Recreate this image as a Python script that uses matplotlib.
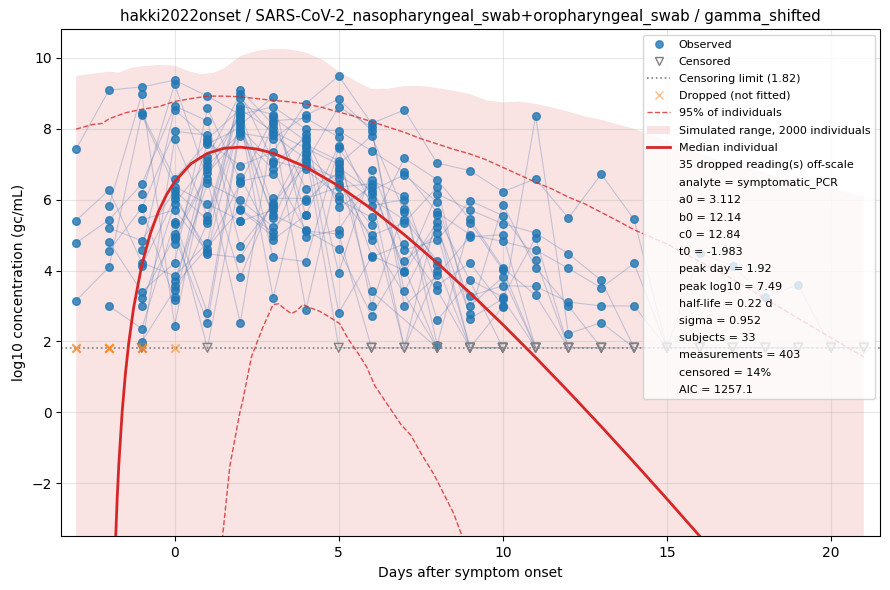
import matplotlib
matplotlib.use("Agg")
import matplotlib.pyplot as plt
from matplotlib.lines import Line2D
from matplotlib.patches import Patch
import numpy as np

# observed readings per day (order within a day = subject order)
days = list(range(-3, 22))
obs = {
    -3: [7.43, 3.15, 5.41, 4.78],
    -2: [9.09, 4.10, 6.27, 5.43, 3.00, 5.82, 4.55, 5.20, 4.81],
    -1: [9.18, 8.43, 4.22, 6.44, 2.36, 8.98, 5.77, 4.84, 3.40, 6.16, 5.43, 1.99,
         8.38, 3.23, 4.58, 5.75, 4.13, 3.00],
    0: [9.37, 6.59, 3.85, 8.64, 5.37, 2.44, 7.93, 6.25, 4.22, 9.26, 5.71, 3.46,
        6.37, 4.95, 8.54, 3.17, 6.03, 5.88, 7.71, 3.70, 4.75, 6.14, 5.03, 3.25,
        5.32, 4.88, 3.57],
    1: [8.92, 7.62, 4.78, 8.22, 2.81, 6.97, 7.82, 5.43, 8.58, 6.57, 4.52, 7.19,
        5.88, 2.53, 7.71, 6.86, 4.61, 7.08, 5.54, 6.46, 7.57, 4.47, 6.74, 5.35],
    2: [8.40, 6.96, 9.09, 4.68, 8.10, 7.88, 5.71, 8.65, 6.52, 2.52, 8.25, 8.98,
        5.41, 7.95, 8.55, 3.81, 6.46, 8.33, 8.88, 5.99, 8.03, 4.36, 7.80, 8.18,
        6.63, 8.48, 5.74, 5.39],
    3: [8.62, 7.34, 8.12, 5.85, 8.90, 7.72, 4.96, 8.40, 6.71, 8.02, 3.23, 7.10,
        8.22, 5.57, 7.92, 6.04, 8.32, 4.37, 7.82, 5.23, 7.02, 5.90, 6.85, 5.48,
        4.87, 5.78, 5.08, 5.71],
    4: [7.99, 8.71, 6.31, 7.55, 4.94, 8.38, 7.25, 5.57, 7.85, 2.89, 7.05, 6.85,
        8.30, 5.13, 7.45, 6.03, 7.65, 4.25, 7.15, 5.97, 7.75, 6.96, 5.11, 7.35, 5.56],
    5: [7.94, 9.49, 6.72, 7.10, 5.15, 8.84, 6.44, 7.52, 3.93, 6.90, 8.62, 6.11,
        7.76, 4.61, 7.00, 6.35, 2.81, 7.45, 6.00, 6.80, 5.78, 6.60, 5.03],
    6: [7.38, 8.15, 6.02, 4.42, 6.54, 7.95, 5.27, 3.01, 6.84, 6.25, 8.05, 4.99,
        5.83, 2.73, 7.80, 6.45, 4.38, 6.15, 5.50, 3.41, 6.35, 4.85],
    7: [6.77, 8.53, 5.43, 4.00, 6.09, 3.41, 7.17, 5.74, 4.58, 6.70, 3.01, 5.35,
        6.00, 4.28, 5.65, 3.95, 4.75],
    8: [5.64, 7.03, 4.28, 6.16, 3.58, 5.22, 6.56, 2.59, 4.85, 5.93, 3.86, 6.35,
        1.90, 5.05, 4.15, 5.37, 3.45, 5.58, 4.00],
    9: [5.01, 6.82, 3.28, 5.71, 4.21, 2.76, 5.44, 3.74, 5.97, 3.00, 4.95, 2.64, 5.35],
    10: [4.82, 6.22, 3.57, 5.32, 3.00, 5.86, 4.08, 3.25, 5.55, 3.81, 5.01, 3.20, 4.02, 2.98],
    11: [4.58, 6.59, 3.55, 5.06, 8.36, 4.08, 3.30, 4.92, 4.30],
    12: [4.06, 5.48, 3.11, 4.47, 2.22, 3.00],
    13: [3.51, 6.72, 3.00, 3.72, 2.53],
    14: [4.20, 5.44, 3.00],
    15: [],
    16: [4.48],
    17: [4.14],
    18: [3.25],
    19: [3.60],
    20: [],
    21: [],
}
# censored readings (count per day), plotted at the limit
cens_count = {-1: 1, 1: 1, 5: 1, 6: 2, 7: 2, 8: 4, 9: 4, 10: 4, 11: 4, 12: 4,
              13: 3, 14: 3, 15: 3, 16: 3, 17: 3, 18: 3, 19: 3, 20: 3, 21: 3}
limit = 1.82
dropped_days = [-3, -3, -2, -2, -2, -1, -1, -1, 0]

# simulated range (upper edge; lower edge is off-scale)
sim_days = [-3, -2.5, -2, -1.7, -1.3, -1, -0.5, 0, 0.5, 0.8, 1.2, 1.5, 2, 2.5, 3,
            3.5, 4, 4.5, 5, 5.5, 6, 6.5, 7, 7.5, 8, 8.5, 9, 9.5, 10, 10.5, 11,
            11.5, 12, 12.5, 13, 13.5, 14, 15, 16, 17, 18, 19, 20, 21]
sim_upper = [9.49, 9.55, 9.61, 9.58, 9.73, 9.76, 9.80, 9.78, 9.60, 9.54, 9.58,
             9.70, 10.05, 10.20, 10.25, 10.24, 10.15, 9.95, 9.62, 9.35, 9.12,
             9.13, 9.20, 9.21, 9.15, 9.07, 8.98, 8.80, 8.74, 8.77, 8.70, 8.60,
             8.48, 8.35, 8.25, 8.12, 8.00, 7.65, 7.30, 7.00, 6.75, 6.50, 6.30, 6.10]
sim_floor = -10.0

# 95% of individuals
hi_days = [-3, -2.5, -2.2, -2, -1.5, -1, -0.5, 0, 0.5, 1, 1.5, 2, 2.5, 3, 3.5,
           4, 4.5, 5, 5.5, 6, 6.5, 7, 7.5, 8, 8.5, 9, 9.5, 10, 10.5, 11, 11.5,
           12, 12.5, 13, 13.5, 14, 15, 16, 17, 18, 19, 20, 21]
hi_vals = [7.99, 8.12, 8.15, 8.28, 8.45, 8.55, 8.62, 8.77, 8.85, 8.92, 8.92,
           8.90, 8.85, 8.80, 8.76, 8.70, 8.60, 8.47, 8.35, 8.20, 8.05, 7.90,
           7.72, 7.57, 7.42, 7.29, 7.12, 6.91, 6.70, 6.49, 6.30, 6.07, 5.88,
           5.64, 5.40, 5.15, 4.75, 4.25, 3.76, 3.20, 2.65, 2.10, 1.56]
lo_days = [1.45, 1.68, 1.98, 2.08, 2.34, 2.69, 3.0, 3.17, 3.35, 3.56, 3.73, 3.91,
           4.12, 4.42, 4.73, 5.03, 5.3, 5.6, 5.85, 6.1, 6.5, 6.9, 7.2, 7.5, 7.9,
           8.2, 8.5, 8.8]
lo_vals = [-3.6, -1.53, -0.04, 0.35, 1.56, 2.40, 3.04, 3.06, 2.92, 2.78, 2.87,
           3.04, 2.95, 2.85, 2.68, 2.50, 2.05, 1.65, 1.28, 0.75, 0.20, -0.35,
           -0.65, -1.15, -1.75, -2.30, -2.85, -3.6]

# median individual
med_days = [-1.8, -1.75, -1.7, -1.6, -1.5, -1.4, -1.25, -1.0, -0.75, -0.5, -0.25,
            0, 0.5, 1, 1.5, 2, 2.5, 3, 4, 5, 6, 7, 8, 9, 10, 11, 12, 13, 14,
            15, 16, 16.5]
med_vals = [-3.625, -2.419, -1.461, -0.001, 1.087, 1.943, 2.948, 4.157, 5.014,
            5.650, 6.134, 6.506, 7.016, 7.307, 7.448, 7.480, 7.428, 7.310,
            6.922, 6.385, 5.739, 5.010, 4.215, 3.367, 2.475, 1.546, 0.585,
            -0.402, -1.413, -2.444, -3.494, -4.025]

info = ["35 dropped reading(s) off-scale", "analyte = symptomatic_PCR",
        "a0 = 3.112", "b0 = 12.14", "c0 = 12.84", "t0 = -1.983",
        "peak day = 1.92", "peak log10 = 7.49", "half-life = 0.22 d",
        "sigma = 0.952", "subjects = 33", "measurements = 403",
        "censored = 14%", "AIC = 1257.1"]

red = "#d62728"

fig = plt.figure(figsize=(8.9, 5.9), dpi=100)
ax = fig.add_axes([0.069, 0.091, 0.920, 0.859])

ax.fill_between(sim_days, sim_floor, sim_upper, color=red, alpha=0.13, lw=0, zorder=1)

# per-subject lines (index in each day's list)
full = {d: obs[d] + [limit] * cens_count.get(d, 0) for d in days}
nmax = max(len(v) for v in full.values())
for j in range(nmax):
    tx = [d for d in days if j < len(full[d])]
    ty = [full[d][j] for d in days if j < len(full[d])]
    if len(tx) > 1:
        ax.plot(tx, ty, color="#4c72b0", alpha=0.3, lw=0.8, zorder=2)

ox = [d for d in days for v in obs[d]]
oy = [v for d in days for v in obs[d]]
ax.scatter(ox, oy, s=30, color="#1f77b4", alpha=0.8, zorder=3)
cx = [d for d in days for k in range(cens_count.get(d, 0))]
ax.scatter(cx, [limit] * len(cx), marker="v", s=40, facecolors="none",
           edgecolors="gray", linewidths=1, zorder=3)
ax.axhline(limit, color="gray", ls=":", lw=1.2, zorder=2)
ax.scatter(dropped_days, [limit] * len(dropped_days), marker="x", s=36,
           color="#ff7f0e", alpha=0.5, zorder=4)

ax.plot(hi_days, hi_vals, color=red, ls="--", lw=1, alpha=0.8, zorder=4)
ax.plot(lo_days, lo_vals, color=red, ls="--", lw=1, alpha=0.8, zorder=4)
ax.plot(med_days, med_vals, color=red, lw=2, zorder=5)

ax.set_xlim(-3.45, 21.5)
ax.set_ylim(-3.5, 10.8)
ax.grid(alpha=0.3)
ax.set_xlabel("Days after symptom onset")
ax.set_ylabel("log10 concentration (gc/mL)")
ax.set_title("hakki2022onset / SARS-CoV-2_nasopharyngeal_swab+oropharyngeal_swab / gamma_shifted",
             fontsize=10.8)

handles = [
    Line2D([], [], marker="o", ls="none", color="#1f77b4", alpha=0.8, markersize=5.3),
    Line2D([], [], marker="v", ls="none", markerfacecolor="none",
           markeredgecolor="gray", markersize=6),
    Line2D([], [], color="gray", ls=":", lw=1.2),
    Line2D([], [], marker="x", ls="none", color="#ff7f0e", alpha=0.5, markersize=6),
    Line2D([], [], color=red, ls="--", lw=1, alpha=0.8),
    Patch(facecolor=red, alpha=0.13),
    Line2D([], [], color=red, lw=2),
]
labels = ["Observed", "Censored", "Censoring limit (1.82)", "Dropped (not fitted)",
          "95% of individuals", "Simulated range, 2000 individuals", "Median individual"]
for s in info:
    handles.append(Line2D([], [], ls="none"))
    labels.append(s)
ax.legend(handles, labels, loc="upper right", fontsize=8, labelspacing=0.65)

fig.savefig("out.png", dpi=100)
